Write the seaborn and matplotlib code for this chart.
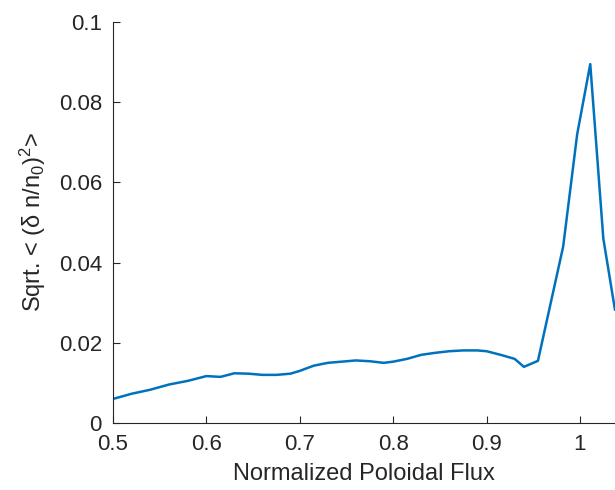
import matplotlib
matplotlib.use("Agg")
import matplotlib.pyplot as plt
import seaborn as sns
import pandas as pd

psi = [0.5, 0.52, 0.54, 0.56, 0.58, 0.60, 0.615, 0.63, 0.645, 0.66, 0.675, 0.69, 0.70,
       0.715, 0.73, 0.745, 0.76, 0.775, 0.79, 0.80, 0.815, 0.83, 0.845, 0.86, 0.875,
       0.89, 0.90, 0.915, 0.93, 0.94, 0.955, 0.982, 0.997, 1.011, 1.025, 1.0375]
dn = [0.006, 0.0073, 0.0083, 0.0096, 0.0105, 0.0117, 0.0115, 0.0124, 0.0123, 0.0120,
      0.0120, 0.0123, 0.0130, 0.0143, 0.0150, 0.0153, 0.0156, 0.0154, 0.0150, 0.0153,
      0.0160, 0.0170, 0.0175, 0.0179, 0.0181, 0.0181, 0.0179, 0.0170, 0.0160, 0.0140,
      0.0155, 0.0440, 0.0720, 0.0895, 0.0460, 0.0282]
df = pd.DataFrame({"psi": psi, "dn": dn})

sns.set_style("ticks")
plt.rcParams['font.family'] = ['Liberation Sans', 'DejaVu Sans']
plt.rcParams['mathtext.fontset'] = 'custom'
plt.rcParams['mathtext.rm'] = 'Liberation Sans'
fig = plt.figure(figsize=(6.15, 4.9), dpi=100)
ax = fig.add_axes([113/615, 1-423/490, (615-113)/615, (423-22)/490])
sns.lineplot(data=df, x="psi", y="dn", ax=ax, color="#0072BD", linewidth=1.8)
ax.set_xlim(0.5, 1.0375)
ax.set_ylim(0, 0.1)
ax.set_xticks([0.5, 0.6, 0.7, 0.8, 0.9, 1.0])
ax.set_xticklabels(["0.5", "0.6", "0.7", "0.8", "0.9", "1"])
ax.set_yticks([0, 0.02, 0.04, 0.06, 0.08, 0.1])
ax.set_yticklabels(["0", "0.02", "0.04", "0.06", "0.08", "0.1"])
ax.tick_params(direction="in", labelsize=16, colors="#262626", length=5, pad=8)
for s in ["top", "right"]:
    ax.spines[s].set_visible(False)
for s in ["left", "bottom"]:
    ax.spines[s].set_color("#262626")
ax.set_xlabel("Normalized Poloidal Flux", fontsize=17, color="#262626", labelpad=6)
ax.set_ylabel(r"Sqrt. < (δ n/n$\mathrm{_0}$)$\mathrm{^2}$>", fontsize=17, color="#262626", labelpad=8)
fig.savefig("out.png", dpi=100)
